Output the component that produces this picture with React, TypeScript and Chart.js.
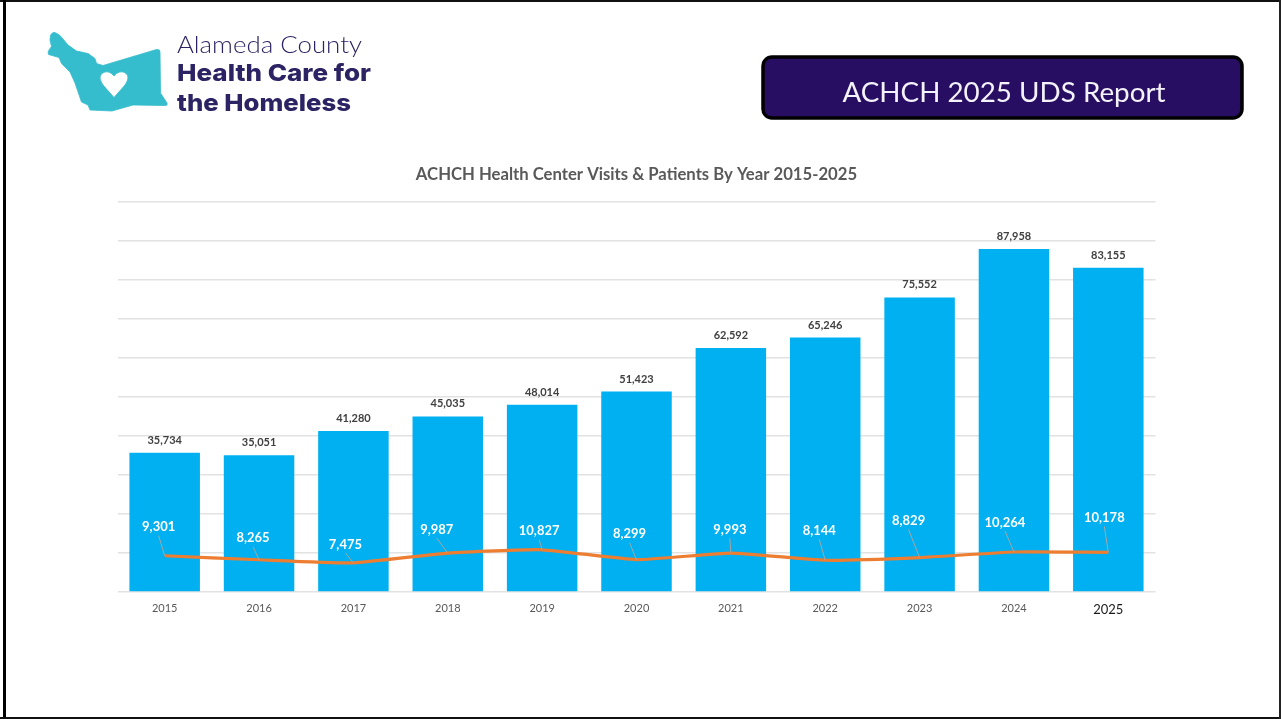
import React, { useEffect, useRef } from "react";
import { Chart, registerables } from "chart.js";

Chart.register(...registerables);

const years = ["2015", "2016", "2017", "2018", "2019", "2020", "2021", "2022", "2023", "2024", "2025"];
const visits = [35734, 35051, 41280, 45035, 48014, 51423, 62592, 65246, 75552, 87958, 83155];
const patients = [9301, 8265, 7475, 9987, 10827, 8299, 9993, 8144, 8829, 10264, 10178];

// Pixel offset of each patient label from its point, joined by a leader line.
const patientLabelShiftX = [-6, -6, -8, -11, -3, -7, -1, -6, -11, -9, -4];
const patientLabelShiftY = [-29, -22, -19, -24, -19, -26, -24, -30, -37, -30, -35];

const FONT = "Lato, 'Open Sans', sans-serif";
const fmt = (v: number) => v.toLocaleString("en-US");

const valueLabels = {
  id: "valueLabels",
  afterDatasetsDraw(chart: any) {
    const { ctx } = chart;
    const barMeta = chart.getDatasetMeta(0);
    const lineMeta = chart.getDatasetMeta(1);
    ctx.save();
    ctx.textAlign = "center";
    ctx.textBaseline = "middle";

    ctx.font = `700 11px ${FONT}`;
    ctx.fillStyle = "#404040";
    barMeta.data.forEach((bar: any, i: number) => {
      ctx.fillText(fmt(visits[i]), bar.x, bar.y - 12.5);
    });

    lineMeta.data.forEach((pt: any, i: number) => {
      const lx = pt.x + patientLabelShiftX[i];
      const ly = pt.y + patientLabelShiftY[i];
      ctx.strokeStyle = "#a6a6a6";
      ctx.lineWidth = 1;
      ctx.beginPath();
      ctx.moveTo(lx, ly + 9);
      ctx.lineTo(pt.x, pt.y);
      ctx.stroke();
      ctx.font = `700 13px ${FONT}`;
      ctx.fillStyle = "#ffffff";
      ctx.fillText(fmt(patients[i]), lx, ly + 0.5);
    });
    ctx.restore();
  },
};

const countyOutline =
  "M50.5 35 Q53 31 56 33 L60 35.5 L68 45 L76.5 51 L88 53.5 L95 58.5 L96.5 63.5 L103 65.5 L156.5 49.5 Q160 49 160 52 L160.5 93 L167 103 Q168 105.5 165 105.5 L133 105 L112 111 L90 110 L88 105 L81.5 102 L75 83 L70 72 L61.5 63.5 L59 57.5 L48.5 54.5 Q47.5 52 49 50 L51.5 46.5 L50 40 Z";
const heartOutline =
  "M114 97.5 L103 85 Q99 79 100.5 75.5 Q103 71 108.5 72 Q112 73 114 76 Q116 73 119.5 72 Q125 71 127.5 75.5 Q129 79 125 85 Z";

export default function App() {
  const ref = useRef<HTMLCanvasElement>(null);

  useEffect(() => {
    const chart = new Chart(ref.current!, {
      type: "bar",
      data: {
        labels: years,
        datasets: [
          {
            type: "bar",
            label: "Visits",
            data: visits,
            backgroundColor: "#00b0f0",
            barPercentage: 0.747,
            categoryPercentage: 1,
            order: 2,
          },
          {
            type: "line",
            label: "Patients",
            data: patients,
            borderColor: "#ed7d31",
            borderWidth: 3.2,
            pointRadius: 0,
            tension: 0.15,
            order: 1,
          },
        ],
      },
      options: {
        responsive: false,
        animation: false,
        layout: { padding: { left: 117.5, right: 125.5, top: 0, bottom: 87 } },
        plugins: {
          legend: { display: false },
          tooltip: { enabled: false },
          title: {
            display: true,
            text: "ACHCH Health Center Visits & Patients By Year 2015-2025",
            color: "#595959",
            font: { family: FONT, size: 16.7, weight: 700, lineHeight: 1.2 },
            padding: { top: 165, bottom: 17 },
          },
        },
        scales: {
          x: {
            grid: { display: false },
            border: { display: false },
            afterFit(scale: any) {
              scale.height = 40;
            },
            ticks: {
              padding: 2,
              maxRotation: 0,
              color: (c: any) => (c.index === years.length - 1 ? "#1a1a1a" : "#595959"),
              font: (c: any) => ({
                family: FONT,
                size: c.index === years.length - 1 ? 13 : 11,
              }),
            },
          },
          y: {
            min: 0,
            max: 100000,
            grid: { color: "#e2e2e2", lineWidth: 1.5, drawTicks: false },
            border: { display: false },
            afterFit(scale: any) {
              scale.width = 0;
            },
            ticks: { display: false, stepSize: 10000 },
          },
        },
      },
      plugins: [valueLabels],
    } as any);
    return () => chart.destroy();
  }, []);

  return (
    <div style={{ position: "fixed", left: 0, top: 0, width: 1281, height: 719, background: "#fff", overflow: "hidden" }}>
      <canvas ref={ref} width={1281} height={719} style={{ position: "absolute", left: 0, top: 0, display: "block" }} />
      <svg
        width={1281}
        height={719}
        viewBox="0 0 1281 719"
        style={{ position: "absolute", left: 0, top: 0, pointerEvents: "none" }}
      >
        {/* slide frame */}
        <rect x={0} y={0} width={1281} height={2} fill="#111" />
        <rect x={3} y={0} width={3} height={719} fill="#000" />
        <rect x={0} y={717} width={1281} height={2} fill="#111" />
        <rect x={1279} y={0} width={2} height={719} fill="#222" />

        {/* organisation logo */}
        <path
          d={`${countyOutline} ${heartOutline}`}
          fill="#35bccd"
          fillRule="evenodd"
          stroke="#35bccd"
          strokeWidth={0.8}
          strokeLinejoin="round"
        />
        <text x={177} y={53} fontFamily="Lato, sans-serif" fontWeight={300} fontSize={24} fill="#2b2363" textLength={185} lengthAdjust="spacingAndGlyphs">
          Alameda County
        </text>
        <text x={177} y={81} fontFamily="Inter, sans-serif" fontWeight={800} fontSize={23.5} fill="#2b2363" textLength={194} lengthAdjust="spacingAndGlyphs">
          Health Care for
        </text>
        <text x={177} y={111} fontFamily="Inter, sans-serif" fontWeight={800} fontSize={23.5} fill="#2b2363" textLength={174} lengthAdjust="spacingAndGlyphs">
          the Homeless
        </text>

        {/* report banner */}
        <rect x={763} y={57} width={479} height={61} rx={9} fill="#280e62" stroke="#000" strokeWidth={3.5} />
        <text x={1004} y={102} textAnchor="middle" fontFamily="Lato, sans-serif" fontSize={27.8} fill="#f4f2fa">
          ACHCH 2025 UDS Report
        </text>
      </svg>
    </div>
  );
}
